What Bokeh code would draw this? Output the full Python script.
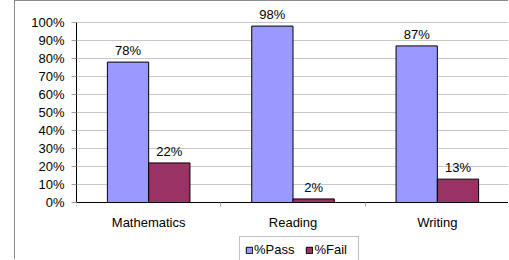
from bokeh.plotting import figure
from bokeh.models import (Range1d, LinearAxis, FixedTicker,
                          PrintfTickFormatter, Legend, LegendItem, ColumnDataSource,
                          LabelSet)
from bokeh.transform import dodge
from bokeh.core.properties import value
from bokeh.embed import file_html
from bokeh.resources import INLINE

# ---- data ----
categories = ["Mathematics", "Reading", "Writing"]
pass_pct = [78, 98, 87]
fail_pct = [22, 2, 13]
series_names = ["%Pass", "%Fail"]
y_ticks = [0, 10, 20, 30, 40, 50, 60, 70, 80, 90, 100]

FONT = "Liberation Sans"
PASS_COLOR = "#9999FF"
FAIL_COLOR = "#993366"
BAR_W = 0.286
OFF = BAR_W / 2

n = len(categories)
centers = [i + 0.5 for i in range(n)]          # category slot centres
bounds = [i for i in range(n + 1)]             # category slot boundaries

src = ColumnDataSource(dict(
    x=centers,
    cat=categories,
    passv=pass_pct,
    failv=fail_pct,
    pass_lbl=[f"{v}%" for v in pass_pct],
    fail_lbl=[f"{v}%" for v in fail_pct],
))

# the frame also holds the category labels and the legend below the 0% line
p = figure(x_range=Range1d(0, n), y_range=Range1d(-32.2, 110),
           width=494, height=259,
           output_backend="svg", toolbar_location=None,
           x_axis_location=None, y_axis_location=None,
           min_border_left=61, min_border_right=0,
           min_border_top=3, min_border_bottom=0,
           styles={"margin-left": "14px",
                   "border-left": "1px solid #8c8c8c",
                   "border-top": "1px solid #8c8c8c"})
p.outline_line_color = None
p.background_fill_color = "white"
p.border_fill_color = "white"

# grid
p.xgrid.visible = False
p.ygrid.ticker = FixedTicker(ticks=y_ticks)
p.ygrid.grid_line_color = "#c8c8c8"
p.ygrid.grid_line_width = 1

# y axis
yaxis = LinearAxis(ticker=FixedTicker(ticks=y_ticks), bounds=(0, 100),
                   formatter=PrintfTickFormatter(format="%d%%"))
yaxis.axis_line_color = "black"
yaxis.major_tick_line_color = "#a0a0a0"
yaxis.major_tick_out = 5
yaxis.major_tick_in = 0
yaxis.minor_tick_line_color = None
yaxis.major_label_standoff = 7
yaxis.major_label_text_font = FONT
yaxis.major_label_text_font_size = "13px"
yaxis.major_label_text_color = "black"
p.add_layout(yaxis, "left")

# x axis drawn at 0%: labels at slot centres, small ticks at slot boundaries
xaxis = LinearAxis(ticker=FixedTicker(ticks=centers, minor_ticks=bounds),
                   fixed_location=0,
                   major_label_overrides={c: lab for c, lab in zip(centers, categories)})
xaxis.axis_line_color = "black"
xaxis.major_tick_line_color = None
xaxis.major_tick_out = 0
xaxis.major_tick_in = 0
xaxis.minor_tick_line_color = "#a0a0a0"
xaxis.minor_tick_out = 4
xaxis.minor_tick_in = 0
xaxis.major_label_standoff = 8
xaxis.major_label_text_font = FONT
xaxis.major_label_text_font_size = "13px"
xaxis.major_label_text_color = "black"
p.add_layout(xaxis, "below")

# bars
r_pass = p.vbar(x=dodge("x", -OFF), top="passv", width=BAR_W,
                source=src, fill_color=PASS_COLOR, line_color="black", line_width=1)
r_fail = p.vbar(x=dodge("x", OFF), top="failv", width=BAR_W,
                source=src, fill_color=FAIL_COLOR, line_color="black", line_width=1)

# value labels
for off, col, lbl in [(-OFF, "passv", "pass_lbl"), (OFF, "failv", "fail_lbl")]:
    ls = LabelSet(x=dodge("x", off), y=col, text=lbl, source=src,
                  text_align="center", text_baseline="alphabetic", y_offset=7,
                  text_font=value(FONT), text_font_size="13px", text_color="black")
    p.add_layout(ls)

# legend (bottom edge runs past the chart's bottom, as in the original)
legend = Legend(items=[LegendItem(label=series_names[0], renderers=[r_pass]),
                       LegendItem(label=series_names[1], renderers=[r_fail])],
                orientation="horizontal", location=(163, -3))
legend.margin = 0
legend.padding = 5
legend.spacing = 11
legend.glyph_width = 8
legend.glyph_height = 8
legend.label_height = 14
legend.label_width = 39
legend.label_standoff = 1
legend.label_text_font = FONT
legend.label_text_font_size = "13px"
legend.label_text_color = "black"
legend.border_line_color = "#808080"
legend.border_line_width = 1
legend.background_fill_color = "white"
legend.background_fill_alpha = 1
p.add_layout(legend, "center")

open("out.html", "w").write(file_html(p, INLINE))
